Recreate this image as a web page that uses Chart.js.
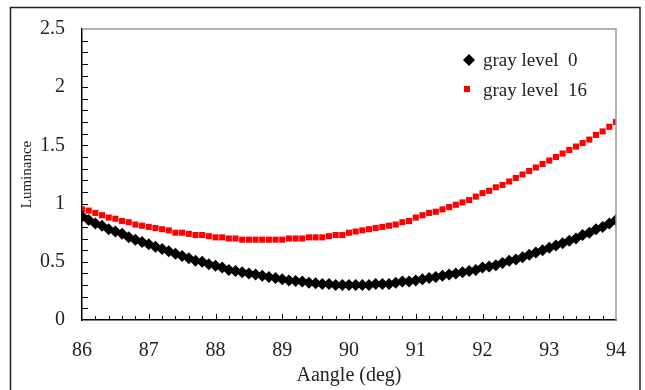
<!DOCTYPE html>
<html>
<head>
<meta charset="utf-8">
<script src="https://cdn.jsdelivr.net/npm/chart.js@4/dist/chart.umd.min.js"></script>
<style>
  html, body { margin: 0; padding: 0; background: #fff; }
  #wrap { width: 645px; height: 390px; }
</style>
</head>
<body>
<div id="wrap"><canvas id="myChart" width="645" height="390"></canvas></div>
<script>
const angles = [
  86.0, 86.1, 86.2, 86.3, 86.4, 86.5, 86.6, 86.7, 86.8, 86.9,
  87.0, 87.1, 87.2, 87.3, 87.4, 87.5, 87.6, 87.7, 87.8, 87.9,
  88.0, 88.1, 88.2, 88.3, 88.4, 88.5, 88.6, 88.7, 88.8, 88.9,
  89.0, 89.1, 89.2, 89.3, 89.4, 89.5, 89.6, 89.7, 89.8, 89.9,
  90.0, 90.1, 90.2, 90.3, 90.4, 90.5, 90.6, 90.7, 90.8, 90.9,
  91.0, 91.1, 91.2, 91.3, 91.4, 91.5, 91.6, 91.7, 91.8, 91.9,
  92.0, 92.1, 92.2, 92.3, 92.4, 92.5, 92.6, 92.7, 92.8, 92.9,
  93.0, 93.1, 93.2, 93.3, 93.4, 93.5, 93.6, 93.7, 93.8, 93.9,
  94.0
];

// gray level 0
const gray0 = [
  0.89, 0.86, 0.83, 0.81, 0.78, 0.76, 0.74, 0.71, 0.69, 0.67,
  0.65, 0.63, 0.61, 0.59, 0.57, 0.55, 0.53, 0.51, 0.50, 0.48,
  0.465, 0.45, 0.43, 0.42, 0.41, 0.40, 0.39, 0.38, 0.37, 0.36,
  0.35, 0.34, 0.335, 0.33, 0.32, 0.315, 0.31, 0.31, 0.30, 0.30,
  0.30, 0.30, 0.30, 0.30, 0.31, 0.31, 0.31, 0.32, 0.33, 0.33,
  0.34, 0.35, 0.36, 0.37, 0.38, 0.39, 0.40, 0.41, 0.42, 0.43,
  0.45, 0.46, 0.47, 0.49, 0.51, 0.52, 0.54, 0.56, 0.58, 0.60,
  0.62, 0.64, 0.66, 0.68, 0.70, 0.73, 0.75, 0.78, 0.80, 0.83,
  0.86
];

// gray level 16
const gray16 = [
  0.95, 0.94, 0.92, 0.90, 0.88, 0.87, 0.85, 0.84, 0.82, 0.81,
  0.80, 0.79, 0.78, 0.77, 0.75, 0.75, 0.74, 0.73, 0.73, 0.72,
  0.71, 0.71, 0.70, 0.70, 0.69, 0.69, 0.69, 0.69, 0.69, 0.69,
  0.69, 0.70, 0.70, 0.70, 0.71, 0.71, 0.71, 0.72, 0.73, 0.73,
  0.75, 0.76, 0.77, 0.78, 0.79, 0.80, 0.81, 0.82, 0.84, 0.85,
  0.88, 0.90, 0.92, 0.93, 0.95, 0.97, 0.99, 1.01, 1.03, 1.06,
  1.09, 1.11, 1.14, 1.16, 1.19, 1.22, 1.25, 1.28, 1.31, 1.34,
  1.37, 1.40, 1.43, 1.46, 1.49, 1.52, 1.55, 1.59, 1.62, 1.66,
  1.70
];

const SERIES_0 = 'gray level  0';
const SERIES_16 = 'gray level  16';
const FONT = "'Liberation Serif', 'Times New Roman', serif";
const TEXT_COLOR = '#222';

function toPoints(values) {
  return angles.map((a, i) => ({ x: a, y: values[i] }));
}

// frame, top/right plot border, inward ticks and legend
const decorations = {
  id: 'decorations',
  afterDraw(chart) {
    const ctx = chart.ctx;
    const area = chart.chartArea;
    const xs = chart.scales.x;
    const ys = chart.scales.y;
    ctx.save();

    // outer frame
    ctx.strokeStyle = '#222';
    ctx.lineWidth = 1.5;
    ctx.strokeRect(10.5, 7.5, 629.5, 420);

    // top + right border in gray
    ctx.strokeStyle = '#999';
    ctx.lineWidth = 1.5;
    ctx.beginPath();
    ctx.moveTo(area.left, area.top);
    ctx.lineTo(area.right, area.top);
    ctx.lineTo(area.right, area.bottom);
    ctx.stroke();

    // inward ticks
    ctx.strokeStyle = '#000';
    ctx.lineWidth = 1;
    ctx.beginPath();
    for (let i = 1; i < 40; i++) {
      const px = Math.round(xs.getPixelForValue(86 + i * 0.2)) + 0.5;
      const len = (i % 5 === 0) ? 6 : 4;
      ctx.moveTo(px, area.bottom);
      ctx.lineTo(px, area.bottom - len);
    }
    for (let i = 1; i < 25; i++) {
      const py = Math.round(ys.getPixelForValue(i * 0.1)) + 0.5;
      ctx.moveTo(area.left, py);
      ctx.lineTo(area.left + 6, py);
    }
    ctx.stroke();

    // legend
    ctx.fillStyle = '#000';
    ctx.beginPath();
    ctx.moveTo(469, 54);
    ctx.lineTo(475, 60);
    ctx.lineTo(469, 66);
    ctx.lineTo(463, 60);
    ctx.closePath();
    ctx.fill();
    ctx.fillStyle = '#ff0000';
    ctx.fillRect(464, 86, 6, 6);

    ctx.fillStyle = TEXT_COLOR;
    ctx.font = "19px " + FONT;
    ctx.textBaseline = 'middle';
    ctx.textAlign = 'left';
    ctx.fillText(SERIES_0, 483, 61);
    ctx.fillText(SERIES_16, 483, 91);
    ctx.restore();
  }
};

const ctx = document.getElementById('myChart');
const chart = new Chart(ctx, {
  type: 'scatter',
  data: {
    datasets: [
      {
        label: SERIES_0,
        data: toPoints(gray0),
        pointStyle: 'rectRot',
        pointRadius: 6,
        backgroundColor: '#000',
        borderColor: '#000',
        borderWidth: 0,
      },
      {
        label: SERIES_16,
        data: toPoints(gray16),
        pointStyle: 'rect',
        pointRadius: 4.3,
        backgroundColor: '#ff0000',
        borderColor: '#ff0000',
        borderWidth: 0,
      }
    ]
  },
  options: {
    responsive: false,
    animation: false,
    layout: {
      padding: { left: 0, top: 25, right: 29, bottom: 0 }
    },
    scales: {
      x: {
        type: 'linear',
        min: 86,
        max: 94,
        grid: { display: false, drawTicks: false },
        border: { display: true, color: '#000', width: 1.5 },
        ticks: {
          stepSize: 1,
          padding: 19,
          color: TEXT_COLOR,
          font: { family: FONT, size: 20 }
        },
        title: {
          display: true,
          text: 'Aangle (deg)',
          color: TEXT_COLOR,
          font: { family: FONT, size: 20 },
          padding: { top: 0, bottom: 2 }
        },
        afterFit(scale) { scale.height = 70; }
      },
      y: {
        min: 0,
        max: 2.5,
        grid: { display: false, drawTicks: false },
        border: { display: true, color: '#000', width: 1.5 },
        ticks: {
          stepSize: 0.5,
          padding: 17,
          color: TEXT_COLOR,
          font: { family: FONT, size: 20 },
          callback: function(value) {
            return String(value);
          }
        },
        title: {
          display: true,
          text: 'Luminance',
          color: TEXT_COLOR,
          font: { family: FONT, size: 15 },
          padding: { top: 18, bottom: 0 }
        },
        afterFit(scale) { scale.width = 82; }
      }
    },
    plugins: {
      legend: { display: false },
      tooltip: { enabled: false }
    }
  },
  plugins: [decorations]
});
</script>
</body>
</html>
